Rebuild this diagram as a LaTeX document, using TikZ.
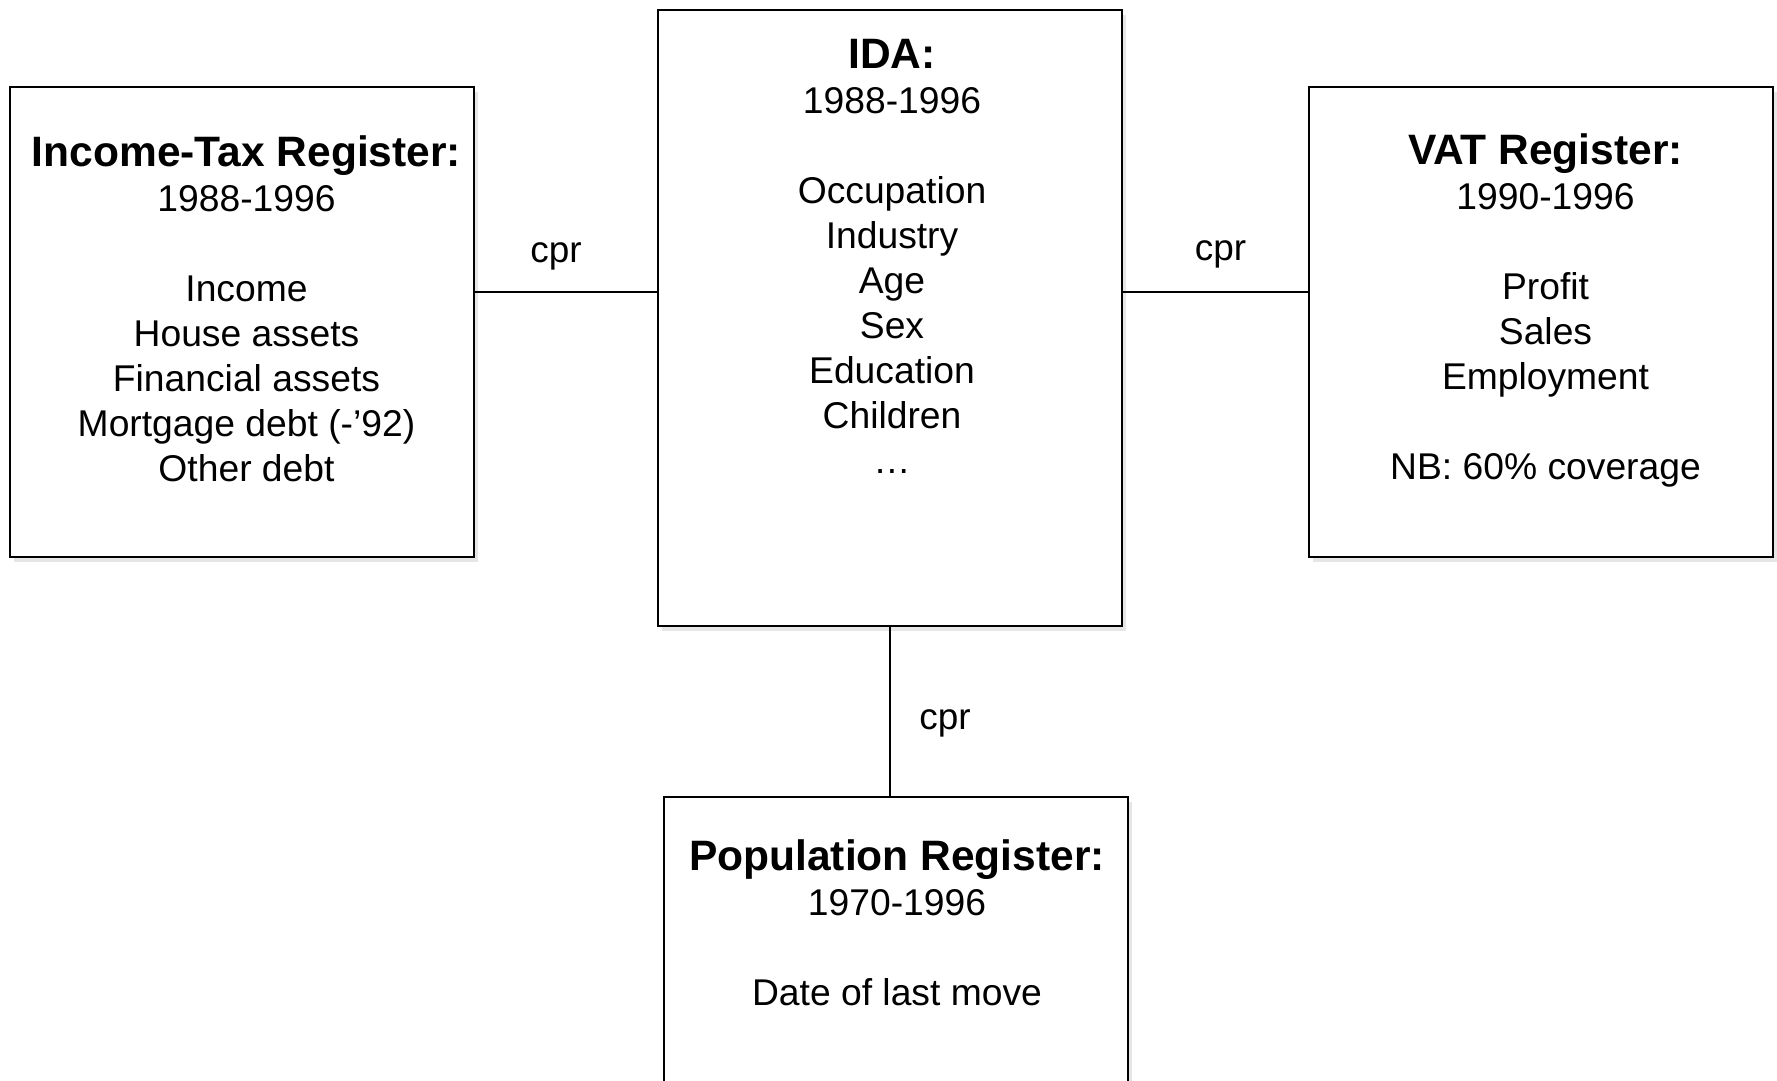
\documentclass[tikz,border=0pt]{standalone}
\usepackage{fontspec}
\setmainfont{Liberation Sans}
\usetikzlibrary{positioning,shadows}

\newcommand{\regtitle}[1]{{\fontsize{12.1}{12.8}\selectfont\bfseries #1}}

\begin{document}
\begin{tikzpicture}[
  x=0.1mm, y=-0.1mm,
  regbox/.style={draw, line width=0.6pt, fill=white, minimum width=46.4mm,
    drop shadow={shadow xshift=0.4mm, shadow yshift=-0.5mm, opacity=0.2}},
  regtext/.style={align=center, inner sep=0pt, font=\fontsize{10.6}{12.8}\selectfont},
  link/.style={line width=0.5pt},
  cprlab/.style={font=\fontsize{10.5}{12.8}\selectfont}
]
\useasboundingbox (0,0) rectangle (1777,1080);
\clip (0,0) rectangle (1777,1080);

% register boxes
\node[regbox, minimum height=47mm] (tax) at (242,322) {};
\node[regbox, minimum height=61.6mm] (ida) at (890,318) {};
\node[regbox, minimum height=47mm] (vat) at (1541,322) {};
\node[regbox, minimum height=40mm] (pop) at (896,997) {};

% contents
\node[regtext, below=4.9mm of tax.north, xshift=0.45mm] (taxtxt) {\regtitle{Income-Tax Register:}\\1988-1996\\[12.8pt]
  Income\\House assets\\Financial assets\\Mortgage debt (-’92)\\Other debt};
\node[regtext, below=3mm of ida.north, xshift=0.2mm] (idatxt) {\regtitle{IDA:}\\1988-1996\\[12.8pt]
  Occupation\\Industry\\Age\\Sex\\Education\\Children\\…};
\node[regtext, below=4.7mm of vat.north, xshift=0.45mm] (vattxt) {\regtitle{VAT Register:}\\1990-1996\\[12.8pt]
  Profit\\Sales\\Employment\\[12.8pt]NB: 60\% coverage};
\node[regtext, below=4.3mm of pop.north, xshift=0.1mm] (poptxt) {\regtitle{Population Register:}\\1970-1996\\[12.8pt]
  Date of last move};

% cpr links
\draw[link] ([yshift=3mm]tax.east) -- ([yshift=3mm]tax.east -| ida.west)
  node[cprlab, midway, yshift=3.6mm, xshift=-1mm] (cprtax) {cpr};
\draw[link] ([yshift=2.6mm]ida.east) -- ([yshift=2.6mm]ida.east -| vat.west)
  node[cprlab, midway, yshift=3.8mm, xshift=0.5mm] (cprvat) {cpr};
\draw[link] (ida.south) -- (ida.south |- pop.north)
  node[cprlab, midway, xshift=5.5mm, yshift=-1.2mm] (cprpop) {cpr};
\end{tikzpicture}
\end{document}
